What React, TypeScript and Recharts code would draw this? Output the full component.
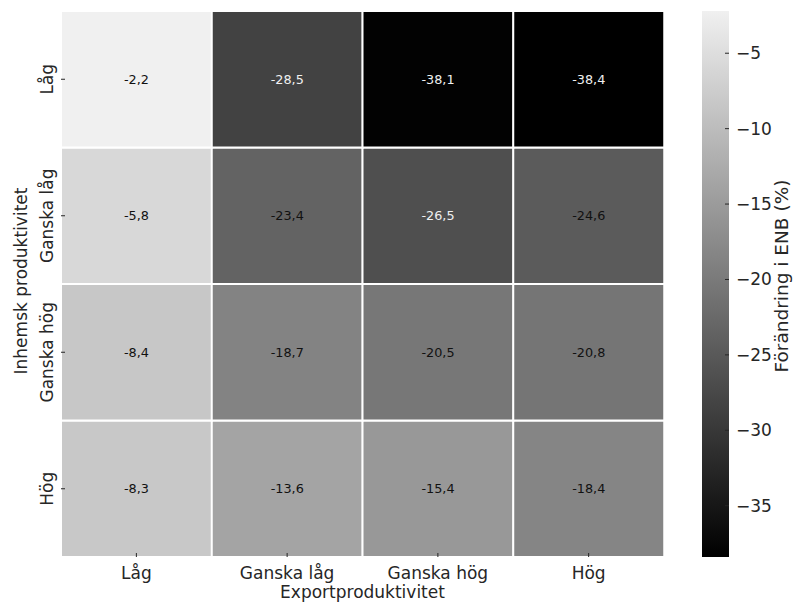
import React from 'react';
import { BarChart, Bar, XAxis, YAxis, Cell, LabelList, Label } from 'recharts';

// Export productivity (columns) and domestic productivity (rows, top to bottom)
const exportLevels = ['Låg', 'Ganska låg', 'Ganska hög', 'Hög'];
const domesticLevels = ['Låg', 'Ganska låg', 'Ganska hög', 'Hög'];

// Change in GNP (%) per row, one value per export level
const lowDomestic = [-2.2, -28.5, -38.1, -38.4];
const fairlyLowDomestic = [-5.8, -23.4, -26.5, -24.6];
const fairlyHighDomestic = [-8.4, -18.7, -20.5, -20.8];
const highDomestic = [-8.3, -13.6, -15.4, -18.4];

const colorbarTicks = [-35, -30, -25, -20, -15, -10, -5];

const rows = [lowDomestic, fairlyLowDomestic, fairlyHighDomestic, highDomestic];
const allValues = rows.flat();
const vMin = Math.min(...allValues);
const vMax = Math.max(...allValues);

const FONT = '"DejaVu Sans", sans-serif';
const INK = '#262626';

const grayLevel = (v: number) => Math.round((240 * (v - vMin)) / (vMax - vMin));
const grayFill = (v: number) => {
  const g = grayLevel(v);
  return `rgb(${g},${g},${g})`;
};
const fmt = (v: number) => v.toFixed(1).replace('.', ',');

// One record per column; each row is a unit-height stacked segment
const table = exportLevels.map((col, i) => ({
  col,
  u0: 1, u1: 1, u2: 1, u3: 1,
  v0: lowDomestic[i],
  v1: fairlyLowDomestic[i],
  v2: fairlyHighDomestic[i],
  v3: highDomestic[i],
}));

// Stack from the bottom row upward
const stackOrder = [3, 2, 1, 0];

const rowTickValue = (rowIndex: number) => domesticLevels.length - rowIndex - 0.5;

const CellLabel = (props: any) => {
  const { x, y, width, height, value } = props;
  const light = grayLevel(value) < 85;
  return (
    <text
      x={x + width / 2}
      y={y + height / 2}
      textAnchor="middle"
      dominantBaseline="central"
      fontFamily={FONT}
      fontSize={12.8}
      fill={light ? '#f0f0f0' : '#111'}
    >
      {fmt(value)}
    </text>
  );
};

const XTick = (props: any) => {
  const { x, payload } = props;
  return (
    <g>
      <line x1={x} x2={x} y1={553} y2={557} stroke={INK} strokeWidth={1} />
      <text x={x} y={579} textAnchor="middle" fontFamily={FONT} fontSize={17} fill={INK}>
        {payload.value}
      </text>
    </g>
  );
};

const YTick = (props: any) => {
  const { y, payload } = props;
  const idx = domesticLevels.length - 1 - Math.floor(payload.value);
  return (
    <g>
      <line x1={61} x2={65} y1={y} y2={y} stroke={INK} strokeWidth={1} />
      <text
        x={53}
        y={y}
        transform={`rotate(-90, 53, ${y})`}
        textAnchor="middle"
        fontFamily={FONT}
        fontSize={17}
        fill={INK}
      >
        {domesticLevels[idx]}
      </text>
    </g>
  );
};

const CbTick = (props: any) => {
  const { y, payload } = props;
  return (
    <g>
      <line x1={35} x2={39} y1={y} y2={y} stroke={INK} strokeWidth={1} />
      <text x={46} y={y} dominantBaseline="central" fontFamily={FONT} fontSize={17} fill={INK}>
        {String(payload.value).replace('-', '\u2212')}
      </text>
    </g>
  );
};

const colorbarData = [{ k: 'cb', span: [vMin, vMax] }];

export default function App() {
  return (
    <div style={{ position: 'absolute', left: 0, top: 0, width: 793, height: 603, background: '#fff' }}>
      <div style={{ position: 'absolute', left: 0, top: 0 }}>
        <BarChart
          width={700}
          height={603}
          data={table}
          margin={{ top: 11, right: 36, bottom: 0, left: 0 }}
          barCategoryGap={0}
          barGap={0}
        >
          {stackOrder.map((r) => (
            <Bar
              key={r}
              dataKey={`u${r}`}
              stackId="grid"
              stroke="#ffffff"
              strokeWidth={2}
              isAnimationActive={false}
            >
              {table.map((d: any, i) => (
                <Cell key={i} fill={grayFill(d[`v${r}`])} />
              ))}
              <LabelList dataKey={`v${r}`} content={CellLabel} />
            </Bar>
          ))}
          <XAxis
            dataKey="col"
            type="category"
            height={46}
            axisLine={false}
            tickLine={false}
            tick={XTick}
            interval={0}
          >
            <Label
              content={() => (
                <text x={362.5} y={598} textAnchor="middle" fontFamily={FONT} fontSize={17} fill={INK}>
                  Exportproduktivitet
                </text>
              )}
            />
          </XAxis>
          <YAxis
            type="number"
            domain={[0, domesticLevels.length]}
            ticks={domesticLevels.map((_, i) => rowTickValue(i))}
            width={61}
            axisLine={false}
            tickLine={false}
            tick={YTick}
            interval={0}
          >
            <Label
              content={() => (
                <text
                  x={27}
                  y={281}
                  transform="rotate(-90, 27, 281)"
                  textAnchor="middle"
                  fontFamily={FONT}
                  fontSize={17}
                  fill={INK}
                >
                  Inhemsk produktivitet
                </text>
              )}
            />
          </YAxis>
        </BarChart>
      </div>
      <div style={{ position: 'absolute', left: 690, top: 0 }}>
        <BarChart
          width={103}
          height={603}
          data={colorbarData}
          margin={{ top: 11, right: 0, bottom: 46, left: 12 }}
          barCategoryGap={0}
        >
          <defs>
            <linearGradient id="cbar" x1="0" y1="0" x2="0" y2="1">
              <stop offset="0%" stopColor="rgb(240,240,240)" />
              <stop offset="100%" stopColor="rgb(0,0,0)" />
            </linearGradient>
          </defs>
          <XAxis dataKey="k" hide />
          <YAxis
            type="number"
            orientation="right"
            domain={[vMin, vMax]}
            ticks={colorbarTicks}
            width={64}
            axisLine={false}
            tickLine={false}
            tick={CbTick}
            interval={0}
            allowDataOverflow
          >
            <Label
              content={() => (
                <text
                  x={98}
                  y={276}
                  transform="rotate(-90, 98, 276)"
                  textAnchor="middle"
                  fontFamily={FONT}
                  fontSize={18.5}
                  fill={INK}
                >
                  Förändring i ENB (%)
                </text>
              )}
            />
          </YAxis>
          <Bar dataKey="span" fill="url(#cbar)" isAnimationActive={false} />
        </BarChart>
      </div>
    </div>
  );
}
